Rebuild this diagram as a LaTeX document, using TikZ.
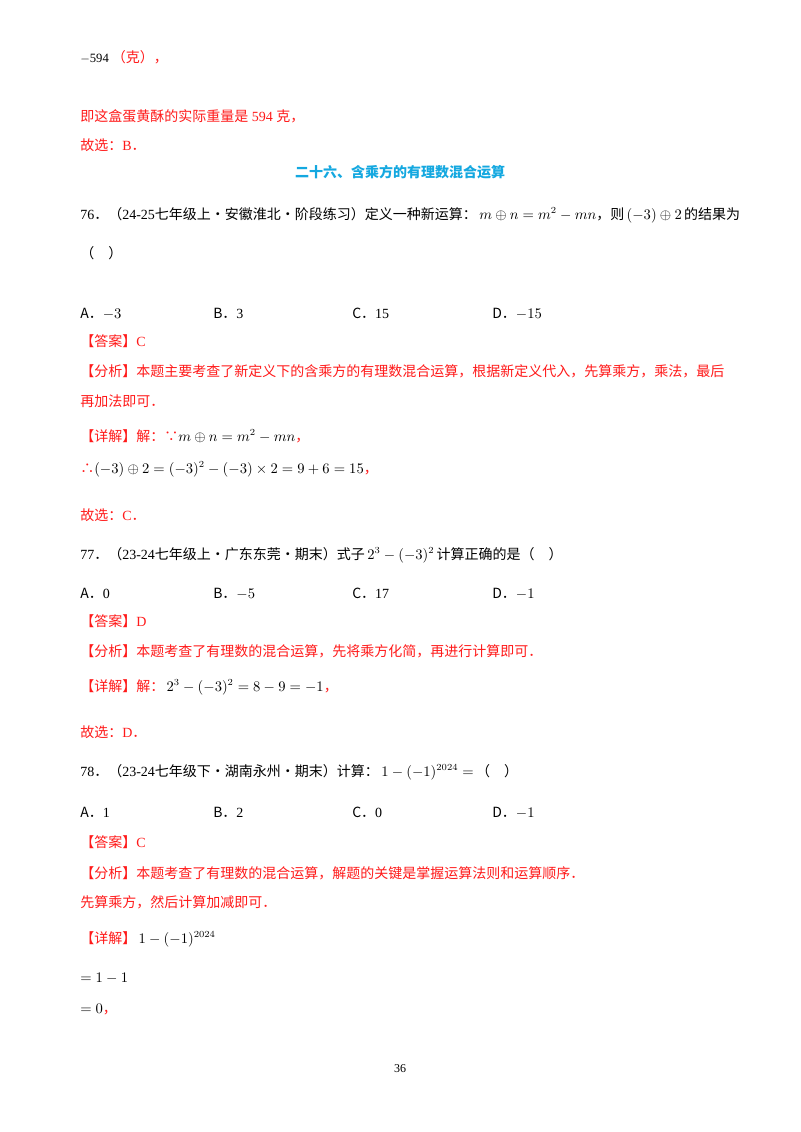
\documentclass[tikz,border=0pt]{standalone}
\usepackage{fontspec}
\setmainfont{Liberation Serif}
\newfontfamily\cjk{Noto Sans CJK SC}
\definecolor{ansred}{HTML}{FF1A1A}
\definecolor{headblue}{HTML}{14A8E0}
\newcommand{\rd}[1]{\textcolor{ansred}{#1}}
\begin{document}
\begin{tikzpicture}[x=0.75pt,y=-0.75pt,
  txt/.style={anchor=base west,inner sep=0,font=\fontsize{10.5pt}{12pt}\selectfont\cjk}]
\fill[white] (0,0) rectangle (800,1132);
\node[txt] (l1) at (80,62) {{\rmfamily\fontsize{9.5pt}{10pt}\selectfont$-$594}\ \rd{（克），}};
\node[txt] (l2) at (80,121) {\rd{即这盒蛋黄酥的实际重量是{\rmfamily\ 594\ }克，}};
\node[txt] (l3) at (80,150) {\rd{故选：{\rmfamily B}．}};
\node[anchor=base,inner sep=0,font=\fontsize{10.5pt}{12pt}\selectfont\cjk\bfseries,text=headblue] (h) at (400,177) {二十六、含乘方的有理数混合运算};
\node[txt] (q76) at (80,219) {{\rmfamily 76}．（{\rmfamily 24-25}七年级上·安徽淮北·阶段练习）定义一种新运算：\,{\rmfamily $m\oplus n=m^2-mn$}，则\,{\rmfamily $(-3)\oplus 2$}\,的结果为};
\node[txt] (q76b) at (80,258) {（　）};
\node[txt] (a76a) at (80,318) {A．{\rmfamily $-3$}};
\node[txt] (a76b) at (213,318) {B．{\rmfamily 3}};
\node[txt] (a76c) at (352,318) {C．{\rmfamily 15}};
\node[txt] (a76d) at (492,318) {D．{\rmfamily $-15$}};
\node[txt] (ans76) at (80,346) {\rd{【答案】{\rmfamily C}}};
\node[txt] (an76) at (80,376) {\rd{【分析】本题主要考查了新定义下的含乘方的有理数混合运算，根据新定义代入，先算乘方，乘法，最后}};
\node[txt] (an76b) at (80,406) {\rd{再加法即可．}};
\node[txt] (d76) at (80,441) {\rd{【详解】解：∵}{\rmfamily $m\oplus n=m^2-mn$}\rd{，}};
\node[txt] (d76b) at (80,473) {\rd{∴}{\rmfamily $(-3)\oplus2=(-3)^2-(-3)\times2=9+6=15$}\rd{，}};
\node[txt] (s76) at (80,520) {\rd{故选：{\rmfamily C}．}};
\node[txt] (q77) at (80,559) {{\rmfamily 77}．（{\rmfamily 23-24}七年级上·广东东莞·期末）式子\,{\rmfamily $2^3-(-3)^2$}\,计算正确的是（　）};
\node[txt] (a77a) at (80,598) {A．{\rmfamily 0}};
\node[txt] (a77b) at (213,598) {B．{\rmfamily $-5$}};
\node[txt] (a77c) at (352,598) {C．{\rmfamily 17}};
\node[txt] (a77d) at (492,598) {D．{\rmfamily $-1$}};
\node[txt] (ans77) at (80,626) {\rd{【答案】{\rmfamily D}}};
\node[txt] (an77) at (80,656) {\rd{【分析】本题考查了有理数的混合运算，先将乘方化简，再进行计算即可．}};
\node[txt] (d77) at (80,691) {\rd{【详解】解：}\,{\rmfamily $2^3-(-3)^2=8-9=-1$}\rd{，}};
\node[txt] (s77) at (80,737) {\rd{故选：{\rmfamily D}．}};
\node[txt] (q78) at (80,776) {{\rmfamily 78}．（{\rmfamily 23-24}七年级下·湖南永州·期末）计算：\,{\rmfamily $1-(-1)^{2024}=$}\,（　）};
\node[txt] (a78a) at (80,817) {A．{\rmfamily 1}};
\node[txt] (a78b) at (213,817) {B．{\rmfamily 2}};
\node[txt] (a78c) at (352,817) {C．{\rmfamily 0}};
\node[txt] (a78d) at (492,817) {D．{\rmfamily $-1$}};
\node[txt] (ans78) at (80,847) {\rd{【答案】{\rmfamily C}}};
\node[txt] (an78) at (80,878) {\rd{【分析】本题考查了有理数的混合运算，解题的关键是掌握运算法则和运算顺序．}};
\node[txt] (an78b) at (80,907) {\rd{先算乘方，然后计算加减即可．}};
\node[txt] (d78) at (80,943) {\rd{【详解】}\,{\rmfamily $1-(-1)^{2024}$}};
\node[txt] (d78b) at (80,982) {{\rmfamily $=1-1$}};
\node[txt] (d78c) at (80,1013) {{\rmfamily $=0$}\rd{，}};
\node[anchor=base,inner sep=0,font=\fontsize{9pt}{10pt}\selectfont] (pg) at (400,1072) {36};
\end{tikzpicture}
\end{document}
